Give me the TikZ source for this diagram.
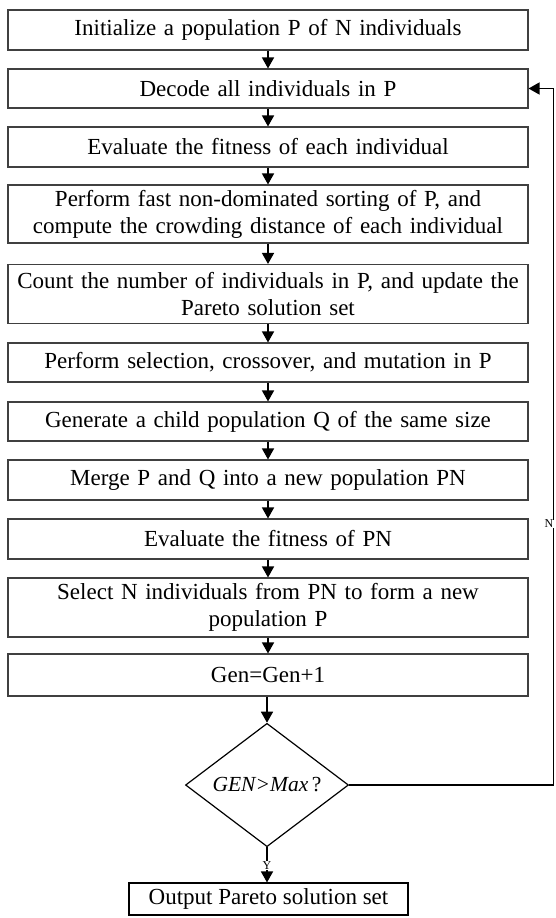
\documentclass[tikz,border=0pt]{standalone}
\usepackage{fontspec}
\setmainfont{Liberation Serif}
\usetikzlibrary{shapes.geometric,arrows.meta,calc}
\begin{document}
\begin{tikzpicture}[x=1pt,y=-1pt,
  stepbox/.style={draw=black!75,line width=1.1pt,minimum width=520pt,text width=518pt,align=center,inner sep=0pt,
    font=\fontsize{23}{27}\selectfont},
  flow/.style={line width=1.5pt,-{Triangle[length=11pt,width=12pt]}},
  lbl/.style={font=\fontsize{12}{13}\selectfont,fill=white,inner sep=0.5pt}]
\useasboundingbox (0,0) rectangle (555,918);
\node[stepbox,minimum height=40pt] (b1) at (268,30) {Initialize a population P of N individuals};
\node[stepbox,minimum height=39pt] (b2) at (268,88.5) {Decode all individuals in P};
\node[stepbox,minimum height=40pt] (b3) at (268,147) {Evaluate the fitness of each individual};
\node[stepbox,minimum height=58pt] (b4) at (268,214) {Perform fast non-dominated sorting of P, and\\compute the crowding distance of each individual};
\node[stepbox,minimum height=59pt] (b5) at (268,294) {Count the number of individuals in P, and update the\\Pareto solution set};
\node[stepbox,minimum height=39pt] (b6) at (268,362.5) {Perform selection, crossover, and mutation in P};
\node[stepbox,minimum height=39pt] (b7) at (268,421.5) {Generate a child population Q of the same size};
\node[stepbox,minimum height=40pt] (b8) at (268,480) {Merge P and Q into a new population PN};
\node[stepbox,minimum height=40pt] (b9) at (268,539) {Evaluate the fitness of PN};
\node[stepbox,minimum height=59pt] (b10) at (268,607.5) {Select N individuals from PN to form a new\\population P};
\node[stepbox,minimum height=42pt] (b11) at (268,675) {Gen=Gen+1};
\node[draw=black,line width=1.2pt,diamond,minimum width=163pt,minimum height=115pt,inner sep=0pt,
  font=\fontsize{21.5}{24}\selectfont] (d) at (267,785) {\textit{GEN>Max}\,?};
\node[draw=black,line width=1.1pt,minimum width=279pt,minimum height=32pt,inner sep=0pt,
  font=\fontsize{23}{26}\selectfont] (out) at (268.5,899) {Output Pareto solution set};
\draw[flow] (b1) -- (b2);
\draw[flow] (b2) -- (b3);
\draw[flow] (b3) -- (b4);
\draw[flow] (b4) -- (b5);
\draw[flow] (b5) -- (b6);
\draw[flow] (b6) -- (b7);
\draw[flow] (b7) -- (b8);
\draw[flow] (b8) -- (b9);
\draw[flow] (b9) -- (b10);
\draw[flow] (b10) -- (b11);
\draw[flow] (b11.south -| d.north) -- (d.north);
\draw[flow] (d.south) -- node[lbl,pos=0.52] (ylab) {Y} (d.south |- out.north);
\coordinate (corner) at ($(b2.east)+(25,0)$);
\draw[flow] (d.east) -| (corner) -- (b2.east);
\node[lbl] (nlab) at (549,524) {N};
\end{tikzpicture}
\end{document}
